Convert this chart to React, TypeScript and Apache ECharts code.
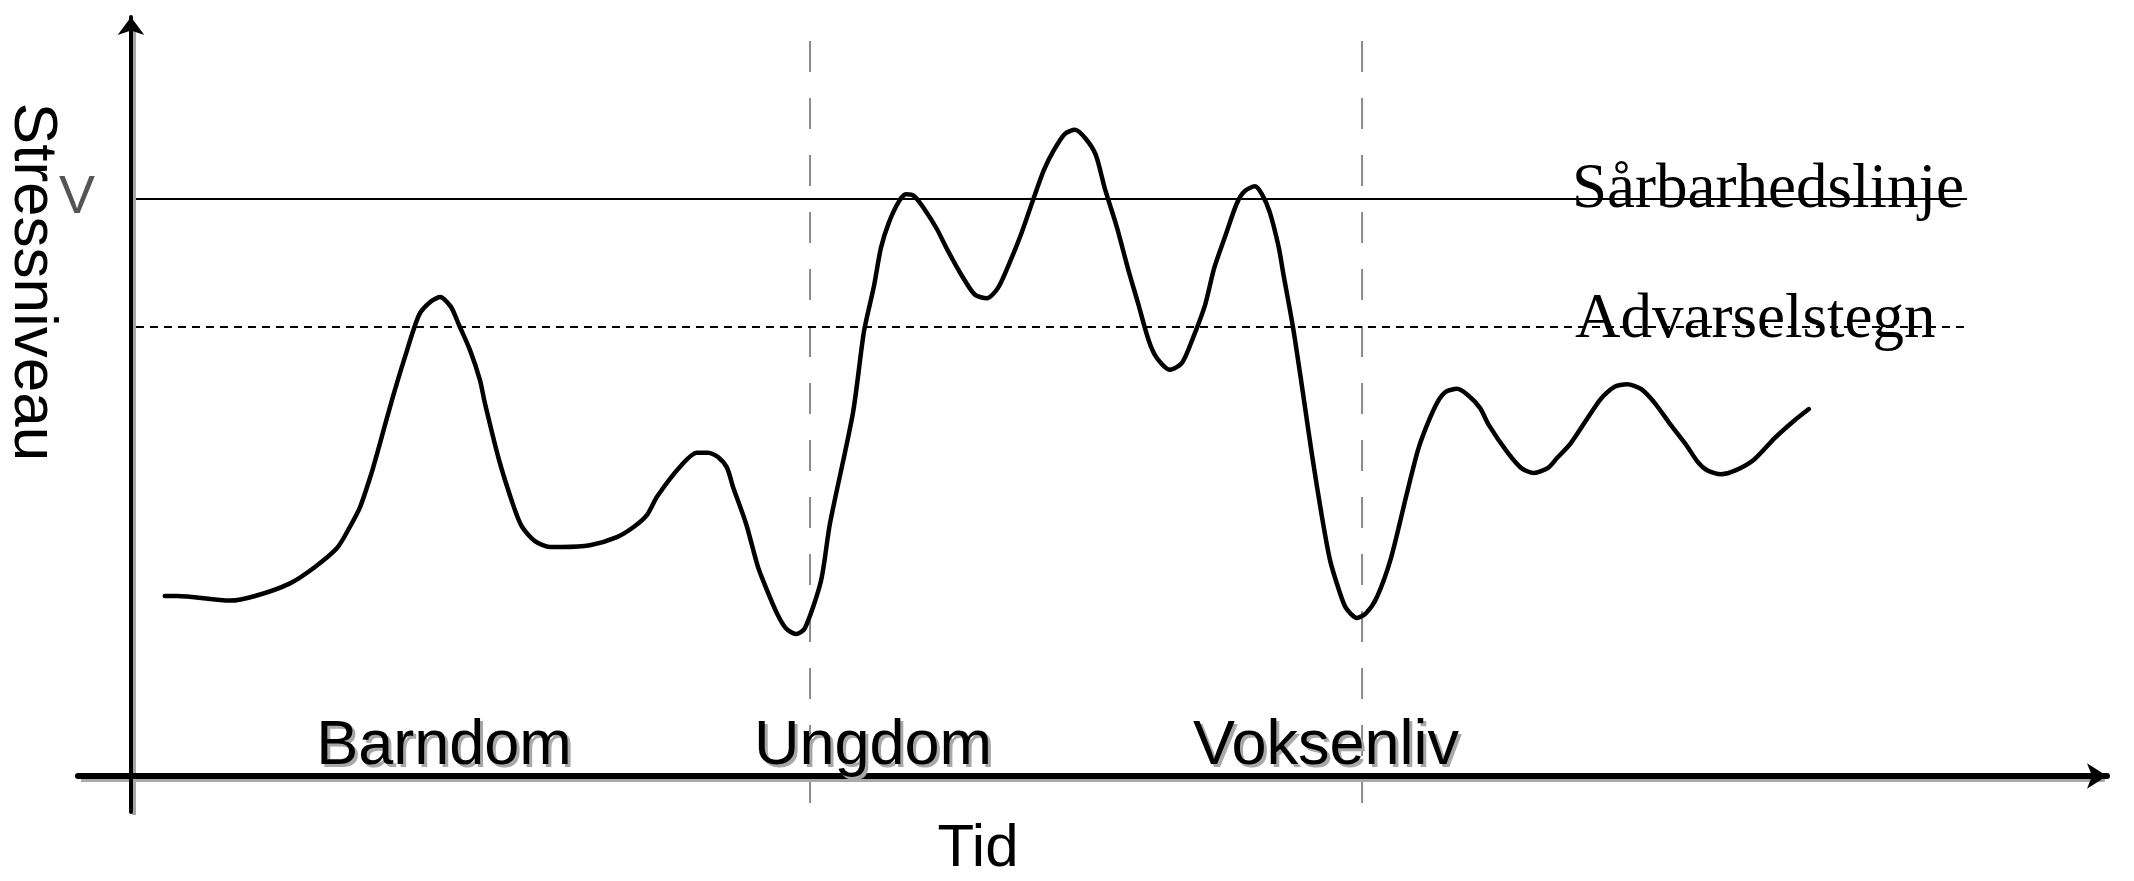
import React, { useEffect, useRef } from "react";
import * as echarts from "echarts";

// Stress curve (time units 0..100 along the time axis, stress units where Sårbarhedslinje = 100)
const curveTime = [
  1.7, 2.32, 4.99, 6.25, 7.96, 9.22, 10.38, 11.03, 11.54, 12.09, 12.49, 13.15, 13.8, 14.51, 15.06, 15.57,
  16.12, 16.52, 17.08, 17.58, 17.83, 18.54, 19.29, 19.7, 20.35, 21.11, 21.71, 23.12, 24.48, 25.34, 25.99,
  26.5, 27.66, 28.51, 29.07, 29.57, 30.03, 30.33, 30.98, 31.59, 32.04, 32.54, 32.99, 33.5, 33.95, 34.76,
  35.21, 36.37, 36.93, 37.43, 37.78, 38.19, 38.69, 39.04, 39.45, 40.0, 40.6, 41.16, 41.86, 42.52, 43.12,
  43.68, 44.28, 44.84, 45.44, 45.99, 46.5, 47.05, 47.56, 48.11, 48.61, 49.07, 49.67, 50.23, 50.73, 51.28,
  51.69, 52.34, 52.95, 53.5, 54.11, 54.56, 55.16, 55.72, 56.12, 56.62, 56.98, 57.38, 57.83, 58.04, 58.54,
  58.99, 59.5, 60.0, 60.4, 60.86, 61.21, 61.76, 62.22, 62.77, 63.48, 64.28, 64.84, 65.29, 65.82, 66.25,
  66.8, 67.36, 67.96, 68.41, 69.32, 70.03, 70.68, 71.39, 71.84, 72.54, 74.01, 74.71, 75.37, 76.07, 76.73,
  77.58, 78.34, 78.94, 79.4, 80.1, 80.86, 81.76, 82.82, 83.83, 84.53,
];
const curveStress = [
  31.2, 31.2, 30.4, 31.2, 33.3, 36.1, 39.5, 43.2, 46.6, 52.2, 57.0, 65.2, 72.6, 79.9, 82.1, 83.0,
  81.3, 78.2, 73.8, 68.6, 64.6, 54.8, 46.6, 43.2, 40.7, 39.7, 39.7, 40.0, 41.4, 43.2, 45.2,
  48.4, 53.6, 56.0, 56.0, 55.3, 53.4, 50.1, 43.8, 36.2, 32.2, 28.2, 25.6, 24.6, 25.6, 33.8,
  43.7, 62.9, 77.1, 84.9, 91.5, 96.0, 99.6, 100.8, 100.5, 98.1, 94.8, 91.0, 86.7, 83.4, 82.8,
  84.6, 89.1, 93.9, 99.8, 105.0, 108.5, 111.3, 112.0, 110.4, 107.6, 101.7, 95.1, 87.9, 82.0, 75.4,
  72.4, 70.4, 71.6, 75.9, 81.6, 87.9, 93.9, 99.3, 101.4, 102.2, 100.8, 97.6, 91.5, 87.3, 77.8,
  67.6, 55.6, 44.9, 37.5, 32.2, 29.1, 27.4, 28.2, 31.0, 37.8, 49.0, 56.5, 60.8, 64.8, 66.6,
  67.1, 66.0, 63.8, 60.8, 56.2, 53.4, 52.5, 53.4, 55.1, 57.7, 65.2, 67.4, 67.9, 67.1, 64.8,
  60.8, 57.4, 54.4, 53.0, 52.3, 53.0, 54.8, 58.6, 61.7, 63.6,
];

// Reference levels
const vulnerabilityLevel = 100; // Sårbarhedslinje
const warningLevel = 77.8; // Advarselstegn
const levelLineStart = 0.25;
const levelLineEnd = 92.5;

// Phase boundaries (time) and vertical extent of the boundary lines (stress units)
const phaseBoundaries = [34.21, 62.02];
const boundaryTop = 127.4;
const boundaryBottom = -4.7;

// Texts
const phaseNames = ["Barndom", "Ungdom", "Voksenliv"];
const xAxisTitle = "Tid";
const yAxisTitle = "Stressniveau";
const yMarker = "V";
const vulnerabilityLabel = "Sårbarhedslinje";
const warningLabel = "Advarselstegn";

// Axis ranges
const X_MIN = -2.67;
const X_MAX = 99.55;
const Y_MIN = -6.24;
const Y_MAX = 131.54;

const SANS = '"Liberation Sans", Arial, Helvetica, sans-serif';
const SERIF = '"Liberation Serif", "Times New Roman", Times, serif';
const SHADOW = "#a8a8a8";

export default function App() {
  const ref = useRef<HTMLDivElement>(null);

  useEffect(() => {
    if (!ref.current) return;
    const chart = echarts.init(ref.current, undefined, { renderer: "svg" });

    const curve = curveTime.map((t, i) => [t, curveStress[i]]);
    const phaseCenters = [444, 873, 1326];

    const phaseText = (name: string, x: number, shadow: boolean) => ({
      type: "text",
      x: x + (shadow ? 3 : 0),
      y: 742 + (shadow ? 3 : 0),
      z: shadow ? 9 : 10,
      style: {
        text: name,
        fontFamily: SANS,
        fontSize: 63,
        fill: shadow ? SHADOW : "#000",
        align: "center",
        verticalAlign: "middle",
      },
    });

    const option: any = {
      animation: false,
      backgroundColor: "#ffffff",
      grid: { left: 78, right: 27, top: 17, bottom: 69, containLabel: false },
      xAxis: {
        type: "value",
        min: X_MIN,
        max: X_MAX,
        z: 5,
        axisLine: {
          onZero: true,
          symbol: ["none", "arrow"],
          symbolSize: [19, 20],
          lineStyle: { color: "#000", width: 6 },
        },
        axisTick: { show: false },
        axisLabel: { show: false },
        splitLine: { show: false },
      },
      yAxis: {
        type: "value",
        min: Y_MIN,
        max: Y_MAX,
        z: 5,
        axisLine: {
          onZero: true,
          symbol: ["none", "arrow"],
          symbolSize: [20, 18],
          lineStyle: { color: "#000", width: 4 },
        },
        axisTick: { show: false },
        axisLabel: { show: false },
        splitLine: { show: false },
      },
      series: [
        ...phaseBoundaries.map((b) => ({
          type: "line",
          data: [
            [b, boundaryTop],
            [b, boundaryBottom],
          ],
          symbol: "none",
          silent: true,
          z: 1,
          lineStyle: { color: "#8a8a8a", width: 2, type: [31, 26] },
        })),
        {
          type: "line",
          data: [
            [levelLineStart, vulnerabilityLevel],
            [levelLineEnd, vulnerabilityLevel],
          ],
          symbol: "none",
          silent: true,
          z: 2,
          lineStyle: { color: "#000", width: 2 },
        },
        {
          type: "line",
          data: [
            [levelLineStart, warningLevel],
            [levelLineEnd, warningLevel],
          ],
          symbol: "none",
          silent: true,
          z: 2,
          lineStyle: { color: "#000", width: 2, type: [8, 6] },
        },
        {
          type: "line",
          data: curve,
          smooth: 0.25,
          symbol: "none",
          silent: true,
          z: 3,
          lineStyle: { color: "#000", width: 4.5, cap: "round", join: "round" },
        },
      ],
      graphic: [
        // soft offset shadows of the two axes
        {
          type: "line",
          z: -1,
          silent: true,
          shape: { x1: 81, y1: 779, x2: 2105, y2: 779 },
          style: { stroke: SHADOW, lineWidth: 6 },
        },
        {
          type: "line",
          z: -1,
          silent: true,
          shape: { x1: 134, y1: 28, x2: 134, y2: 815 },
          style: { stroke: SHADOW, lineWidth: 4 },
        },
        {
          type: "text",
          x: 36,
          y: 282,
          rotation: -Math.PI / 2,
          z: 10,
          style: {
            text: yAxisTitle,
            fontFamily: SANS,
            fontSize: 62,
            fill: "#000",
            align: "center",
            verticalAlign: "middle",
          },
        },
        {
          type: "text",
          x: 77,
          y: 194,
          z: 10,
          style: {
            text: yMarker,
            fontFamily: SANS,
            fontSize: 54,
            fill: "#555",
            align: "center",
            verticalAlign: "middle",
          },
        },
        {
          type: "text",
          x: 1572,
          y: 186,
          z: 10,
          style: {
            text: vulnerabilityLabel,
            fontFamily: SERIF,
            fontSize: 63,
            fill: "#000",
            align: "left",
            verticalAlign: "middle",
          },
        },
        {
          type: "text",
          x: 1575,
          y: 316,
          z: 10,
          style: {
            text: warningLabel,
            fontFamily: SERIF,
            fontSize: 63,
            fill: "#000",
            align: "left",
            verticalAlign: "middle",
          },
        },
        ...phaseNames.map((name, i) => phaseText(name, phaseCenters[i], true)),
        ...phaseNames.map((name, i) => phaseText(name, phaseCenters[i], false)),
        {
          type: "text",
          x: 978,
          y: 845,
          z: 10,
          style: {
            text: xAxisTitle,
            fontFamily: SANS,
            fontSize: 60,
            fill: "#000",
            align: "center",
            verticalAlign: "middle",
          },
        },
      ],
    };

    chart.setOption(option);
    return () => chart.dispose();
  }, []);

  return (
    <div
      ref={ref}
      style={{ position: "fixed", left: 0, top: 0, width: 2134, height: 881, background: "#fff" }}
    />
  );
}
